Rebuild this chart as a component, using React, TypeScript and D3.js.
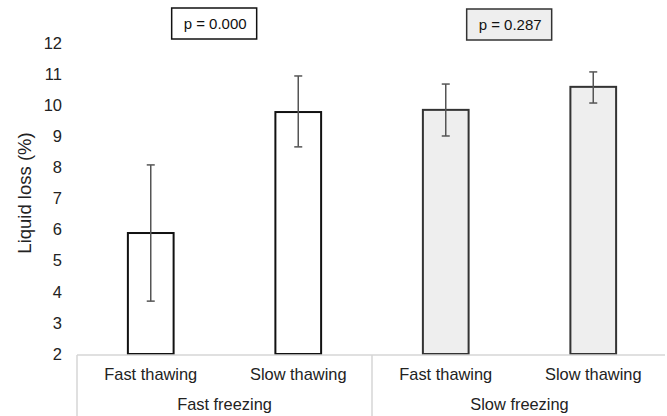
import React from "react";
import * as d3 from "d3";

const categories = ["Fast thawing", "Slow thawing", "Fast thawing", "Slow thawing"];
const groups = ["Fast freezing", "Slow freezing"];
const groupOf = [0, 0, 1, 1];
const means = [5.89, 9.78, 9.85, 10.59];
const errUpper = [8.08, 10.94, 10.68, 11.07];
const errLower = [3.7, 8.66, 9.01, 10.07];
const pValues = ["p = 0.000", "p = 0.287"];
const yTicks = [2, 3, 4, 5, 6, 7, 8, 9, 10, 11, 12];

const W = 667;
const H = 416;
const FONT = "Liberation Sans, Arial, sans-serif";

export default function App() {
  const left = 77;
  const right = 667;
  const y = d3.scaleLinear().domain([2, 12]).range([354, 43]);
  const x = d3
    .scaleBand<number>()
    .domain(d3.range(categories.length))
    .range([left, right])
    .paddingInner(0.69)
    .paddingOuter(0.345);
  const bw = x.bandwidth();
  const step = x.step();
  const groupFill = ["#ffffff", "#eeeeee"];
  const groupStroke = ["#111111", "#333333"];
  const boxFill = ["#ffffff", "#eeeeee"];
  const groupX = (g: number) => left + g * step * 2;

  return (
    <svg
      width={W}
      height={H}
      style={{ position: "absolute", left: 0, top: 0, background: "#fff" }}
      fontFamily={FONT}
    >
      {/* y tick labels */}
      {yTicks.map((t) => (
        <text key={t} x={62} y={y(t)} dy="0.35em" textAnchor="end" fontSize={16.5} fill="#222">
          {t}
        </text>
      ))}
      <text
        transform={`translate(25,193) rotate(-90)`}
        textAnchor="middle"
        dy="0.35em"
        fontSize={18.5}
        fill="#222"
      >
        Liquid loss (%)
      </text>

      {/* bars */}
      {means.map((m, i) => {
        const g = groupOf[i];
        const x0 = x(i)!;
        const cx = x0 + bw / 2;
        return (
          <g key={i}>
            <rect
              x={x0}
              y={y(m)}
              width={bw}
              height={y(2) - y(m)}
              fill={groupFill[g]}
              stroke={groupStroke[g]}
              strokeWidth={2}
            />
            <line x1={cx} x2={cx} y1={y(errUpper[i])} y2={y(errLower[i])} stroke="#555" strokeWidth={1.5} />
            <line x1={cx - 4} x2={cx + 4} y1={y(errUpper[i])} y2={y(errUpper[i])} stroke="#555" strokeWidth={1.5} />
            <line x1={cx - 4} x2={cx + 4} y1={y(errLower[i])} y2={y(errLower[i])} stroke="#555" strokeWidth={1.5} />
          </g>
        );
      })}

      {/* x axis */}
      <line x1={left} x2={right - 2} y1={y(2) + 1} y2={y(2) + 1} stroke="#d6d6d6" strokeWidth={1.5} />
      {groups.map((_, g) => (
        <line key={g} x1={groupX(g)} x2={groupX(g)} y1={y(2) + 1} y2={H} stroke="#d6d6d6" strokeWidth={1.5} />
      ))}
      {categories.map((c, i) => (
        <text key={i} x={x(i)! + bw / 2} y={374} dy="0.35em" textAnchor="middle" fontSize={16.4} fill="#222">
          {c}
        </text>
      ))}
      {groups.map((gname, g) => (
        <text key={g} x={groupX(g) + step} y={404} dy="0.35em" textAnchor="middle" fontSize={16.4} fill="#222">
          {gname}
        </text>
      ))}

      {/* p-value boxes */}
      {pValues.map((p, g) => {
        const cx = groupX(g) + step * 0.93;
        const w = 85;
        const h = 31;
        const top = 8 + g;
        return (
          <g key={g}>
            <rect x={cx - w / 2} y={top} width={w} height={h} fill={boxFill[g]} stroke={g === 0 ? "#111" : "#333"} strokeWidth={1.5} />
            <text x={cx + 1} y={top + h / 2} dy="0.35em" textAnchor="middle" fontSize={15} fill="#111">
              {p}
            </text>
          </g>
        );
      })}
    </svg>
  );
}
